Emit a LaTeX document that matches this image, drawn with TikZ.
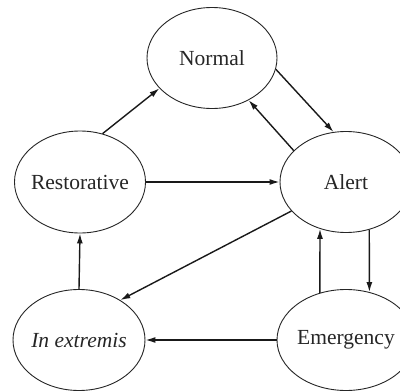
\documentclass[tikz,border=0pt]{standalone}
\usepackage{fontspec}
\setmainfont{Liberation Serif}
\usetikzlibrary{shapes.geometric,arrows.meta}
\begin{document}
\begin{tikzpicture}[x=1pt,y=-1pt,
  state/.style={draw=black!85,line width=0.9pt,ellipse,inner sep=0pt},
  lbl/.style={font=\fontsize{21.5}{25}\selectfont,inner sep=0pt,text=black!85},
  conn/.style={line width=1.4pt,draw=black!90,-{Latex[length=10pt,width=6pt]}}]
\clip (0,0) rectangle (400,391);
\fill[white] (0,0) rectangle (400,391);
\node[state,minimum width=130pt,minimum height=101pt] (n) at (212,58) {};
\node[state,minimum width=131pt,minimum height=102pt] (r) at (80,182) {};
\node[state,minimum width=132pt,minimum height=101pt] (a) at (346,182) {};
\node[state,minimum width=138pt,minimum height=101pt] (e) at (346,340) {};
\node[state,minimum width=132pt,minimum height=101pt] (i) at (79,340) {};
\node[lbl] (nl) at (n) {Normal};
\node[lbl] (rl) at (r) {Restorative};
\node[lbl] (al) at (a.center) {Alert};
\node[lbl] (el) at (e.center) {Emergency};
\node[lbl] (il) at (i) {\itshape In extremis};
\draw[conn] (r.65) -- (n.210);
\draw[conn] (n.350) -- (a.104);
\draw[conn] (a.149) -- (n.311);
\draw[conn] (r.east) -- (a.west);
\draw[conn] (a.208) -- (i.44);
\draw[conn] (i.north) -- (r.south);
\draw[conn] (e.119) -- (a.241);
\draw[conn] (a.296) -- (e.64);
\draw[conn] (e.west) -- (i.east);
\end{tikzpicture}
\end{document}
